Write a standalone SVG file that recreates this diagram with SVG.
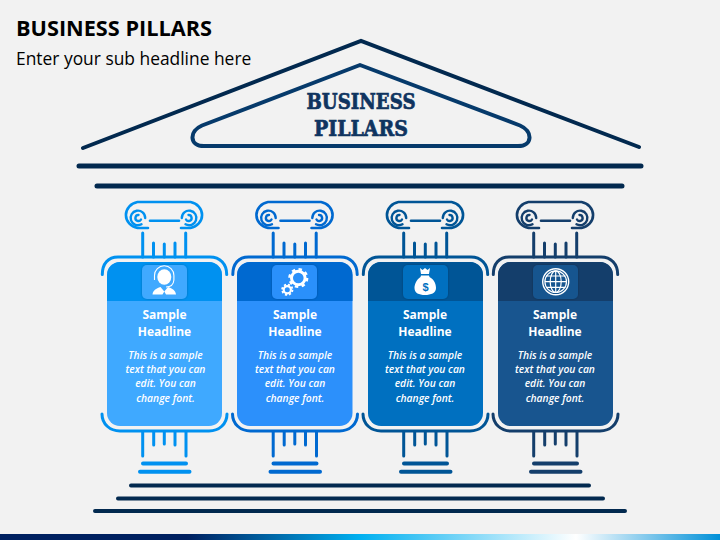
<svg xmlns="http://www.w3.org/2000/svg" xmlns:xlink="http://www.w3.org/1999/xlink" width="720" height="540" viewBox="0 0 720 540">
<style>
.t{font-family:"Open Sans","Noto Sans","Liberation Sans",sans-serif}
.h{font-size:12px;font-weight:700;fill:#fff;text-anchor:middle}
.b{font-size:10.300px;font-style:italic;font-weight:600;fill:#fff;text-anchor:middle}
.r{font-family:"DejaVu Serif","Liberation Serif",serif;font-weight:700;font-size:21.500px;fill:#0f3460;stroke:#0f3460;stroke-width:.7}
.s{fill:none;stroke:currentColor;stroke-linecap:round;stroke-linejoin:round}
.l{fill:none;stroke:#02294f;stroke-width:5;stroke-linecap:round}
.w{fill:#fff}
</style>
<defs>
<linearGradient id="bar" x1="0" x2="720" y1="0" y2="0" gradientUnits="userSpaceOnUse">
<stop offset="0" stop-color="#002060"/><stop offset=".26" stop-color="#002060"/><stop offset=".5" stop-color="#00b0f0"/><stop offset=".8" stop-color="#fff"/><stop offset="1" stop-color="#0090d8"/>
</linearGradient>
<filter id="sh" x="-10%" y="-10%" width="120%" height="120%"><feDropShadow dx="0" dy="0" stdDeviation="1" flood-color="#000" flood-opacity=".25"/></filter>
<g id="pillar">
<path class="s" stroke-width="2.600" d="M148 228H137.500A14 13.200 0 0 1 137.500 202H190.500A14 13.200 0 0 1 190.500 228H181"/>
<path class="s" stroke-width="2.600" d="M150 220.700H179"/>
<path class="s" stroke-width="2.400" d="M145.200 218A7.300 7.300 0 1 0 141.500 224.300M141 219.500A3 3 0 1 1 138.500 215"/>
<path class="s" stroke-width="2.400" d="M181.800 218A7.300 7.300 0 1 1 185.500 224.300M186 219.500A3 3 0 1 0 188.500 215"/>
<path class="s" stroke-width="3" d="M142.700 233V257M153.500 243V257M164.300 244V257M175 243V257M185.700 233V257"/>
<path class="s" stroke-width="3" d="M102.300 274.500C102.300 264 108 257 118 257H210C220 257 226.700 264 226.700 274.500"/>
<path class="s" stroke-width="3" d="M102 414C102 424 110 431 120 431H209C219 431 227 424 227 414"/>
<path class="s" stroke-width="3" d="M142.700 432V456M153.700 432V445M164.300 432V444M175 432V445M186 432V456"/>
<path class="s" stroke-width="4" d="M143 463.500H186M140 471.700H189.500"/>
</g>
</defs>
<rect width="720" height="540" fill="#f2f2f2"/>
<text class="t" x="16" y="36" font-size="21.700" font-weight="700" fill="#000">BUSINESS PILLARS</text>
<text class="t" x="16" y="65" font-size="17.400" fill="#000">Enter your sub headline here</text>
<g id="connectors">
<path class="l" style="stroke-width:4" d="M83 148L361 41L639 147"/>
<path fill="none" stroke="#063a6b" stroke-width="4" stroke-linejoin="round" d="M360 65L520 125.500C533 131 533 146 518 146H204C189 146 189 131 202 125.500Z"/>
<path class="l" d="M79 166H641M97 186H622"/>
<path class="l" style="stroke-width:4" d="M131 485.500H589M118 498.500H603M95 511H625"/>
</g>
<g id="roof-title">
<text class="r" x="361" y="109" text-anchor="middle" textLength="109" lengthAdjust="spacingAndGlyphs">BUSINESS</text>
<text class="r" x="361" y="135.500" text-anchor="middle" textLength="94" lengthAdjust="spacingAndGlyphs">PILLARS</text>
</g>
<g id="pillar-1" style="color:#0091f0">
<use xlink:href="#pillar" href="#pillar"/>
<rect x="107" y="262" width="115" height="164" rx="13" fill="#3fa9ff"/>
<path fill="#0091f0" d="M107 301V275a13 13 0 0 1 13-13h89a13 13 0 0 1 13 13v26z"/>
<rect x="142" y="265" width="45" height="34" rx="5" fill="#3fa9ff" filter="url(#sh)"/>
<path fill="none" stroke="#fff" stroke-width="1.100" d="M154.500 280V275.500a9.700 9.700 0 0 1 19.400 0V280M173.900 280C173.500 285 170 287 166 287"/>
<ellipse class="w" cx="164.300" cy="277" rx="7" ry="7.800"/>
<path class="w" d="M152.500 294.500C153 290.500 156 288.500 160.500 287L164.300 291.500L168 287C172.500 288.500 175.500 290.500 176 294.500H166L164.300 291.500L162.500 294.500Z"/>
<text class="t h" x="164.500" y="319">Sample</text><text class="t h" x="164.500" y="336">Headline</text>
<text class="t b" x="165.500" y="359">This is a sample</text><text class="t b" x="165.500" y="373">text that you can</text><text class="t b" x="165.500" y="387">edit. You can</text><text class="t b" x="165.500" y="402">change font.</text>
</g>
<g id="pillar-2" style="color:#0069d0">
<use xlink:href="#pillar" href="#pillar" x="130.500"/>
<rect x="237" y="262" width="115.500" height="164" rx="13" fill="#2c90fb"/>
<path fill="#0069d0" d="M237 301V275a13 13 0 0 1 13-13h89.500a13 13 0 0 1 13 13v26z"/>
<rect x="272" y="265" width="45" height="34" rx="5" fill="#2c90fb" filter="url(#sh)"/>
<circle cx="298.300" cy="278" r="6.800" fill="none" stroke="#fff" stroke-width="3"/>
<circle cx="298.300" cy="278" r="8.800" fill="none" stroke="#fff" stroke-width="2.500" stroke-dasharray="3.400 3.510"/>
<circle cx="287.300" cy="289.700" r="3.600" fill="none" stroke="#fff" stroke-width="2.200"/>
<circle cx="287.300" cy="289.700" r="5.200" fill="none" stroke="#fff" stroke-width="1.800" stroke-dasharray="2.200 1.880"/>
<text class="t h" x="295" y="319">Sample</text><text class="t h" x="295" y="336">Headline</text>
<text class="t b" x="295" y="359">This is a sample</text><text class="t b" x="295" y="373">text that you can</text><text class="t b" x="295" y="387">edit. You can</text><text class="t b" x="295" y="402">change font.</text>
</g>
<g id="pillar-3" style="color:#005596">
<use xlink:href="#pillar" href="#pillar" x="261"/>
<rect x="368" y="262" width="115" height="164" rx="13" fill="#0070c0"/>
<path fill="#005596" d="M368 301V275a13 13 0 0 1 13-13h89a13 13 0 0 1 13 13v26z"/>
<rect x="403" y="265" width="45" height="34" rx="5" fill="#0070c0" filter="url(#sh)"/>
<path class="w" d="M420 268L422.500 270L425 268L427.500 270L430 268L429 274H421ZM421 275.500H429L429.500 277C435 280 436 285 436 288C436 293 431 295 425 295C419 295 414.500 293 414.500 288C414.500 285 416 280 420.500 277Z"/>
<text x="425.500" y="291" font-family="'Liberation Sans',sans-serif" font-weight="700" font-size="11" fill="#0070c0" text-anchor="middle">$</text>
<text class="t h" x="425" y="319">Sample</text><text class="t h" x="425" y="336">Headline</text>
<text class="t b" x="425" y="359">This is a sample</text><text class="t b" x="425" y="373">text that you can</text><text class="t b" x="425" y="387">edit. You can</text><text class="t b" x="425" y="402">change font.</text>
</g>
<g id="pillar-4" style="color:#143e6b">
<use xlink:href="#pillar" href="#pillar" x="391"/>
<rect x="498" y="262" width="115" height="164" rx="13" fill="#18558f"/>
<path fill="#143e6b" d="M498 301V275a13 13 0 0 1 13-13h89a13 13 0 0 1 13 13v26z"/>
<rect x="533" y="265" width="45" height="34" rx="5" fill="#18558f" filter="url(#sh)"/>
<g fill="none" stroke="#fff">
<circle cx="555.700" cy="281.700" r="13" stroke-width="1.400"/>
<circle cx="555.700" cy="281.700" r="10.800" stroke-width="1.200"/>
<ellipse cx="555.700" cy="281.700" rx="5.500" ry="10.800" stroke-width="1.200"/>
<path stroke-width="1.200" d="M555.700 271V292.500M546 276H565.400M545 281.700H566.400M546 287.400H565.400"/>
</g>
<text class="t h" x="555" y="319">Sample</text><text class="t h" x="555" y="336">Headline</text>
<text class="t b" x="555" y="359">This is a sample</text><text class="t b" x="555" y="373">text that you can</text><text class="t b" x="555" y="387">edit. You can</text><text class="t b" x="555" y="402">change font.</text>
</g>
<rect x="0" y="534" width="720" height="6" fill="url(#bar)"/>
</svg>
